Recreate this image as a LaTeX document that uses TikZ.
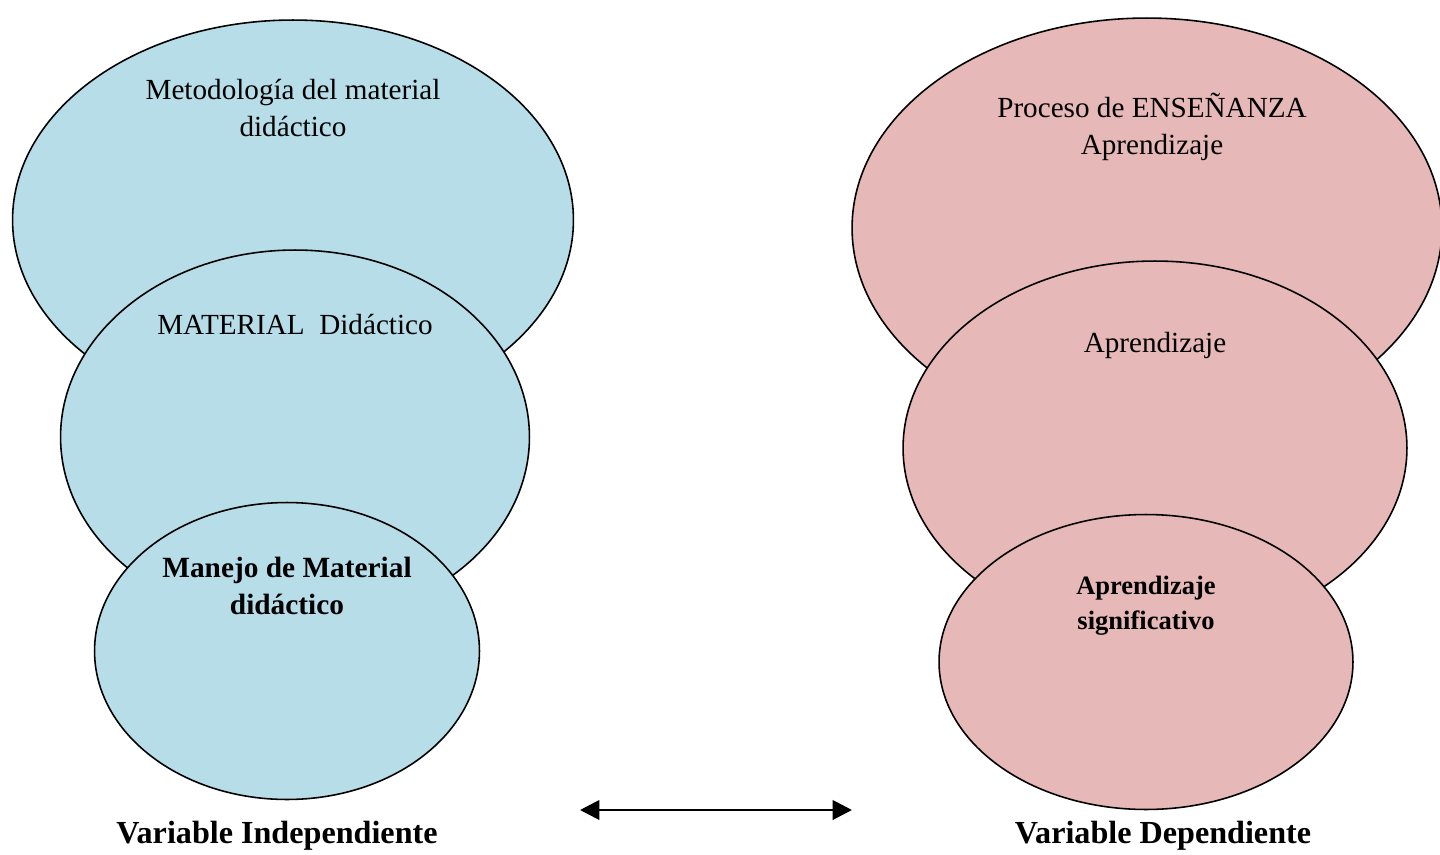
\documentclass[tikz,border=0pt]{standalone}
\usepackage{fontspec}
\setmainfont{Liberation Serif}
\usetikzlibrary{shapes, arrows.meta, positioning}
\definecolor{varblue}{RGB}{183, 221, 232}
\definecolor{varpink}{RGB}{230, 184, 183}
\tikzset{
  bubble/.style={ellipse, draw=black, line width=0.9pt, inner sep=0pt},
  bubtext/.style={align=center, font=\fontsize{16.6}{21.5}\selectfont},
  bubbold/.style={align=center, font=\fontsize{16.7}{21.5}\selectfont\bfseries},
}
\begin{document}
\begin{tikzpicture}[x=0.02cm, y=-0.02cm]
  \useasboundingbox (0,0) rectangle (1440,855);
  \clip (0,0) rectangle (1440,855);

  % Independent variable
  \node[bubble, fill=varblue, minimum width=11.22cm, minimum height=8cm] (metod) at (293,220) {};
  \node[bubble, fill=varblue, minimum width=9.38cm, minimum height=7.48cm] (mater) at (295,437) {};
  \node[bubble, fill=varblue, minimum width=7.7cm, minimum height=5.94cm] (manejo) at (287,651) {};
  \node[bubtext] (metodtxt) at (293,108) {Metodología del material\\didáctico};
  \node[bubtext] (matertxt) at (295,324) {MATERIAL~~Didáctico};
  \node[bubbold] (manejotxt) at (287,586) {Manejo de Material\\didáctico};

  % Dependent variable
  \node[bubble, fill=varpink, minimum width=11.8cm, minimum height=8.4cm] (proceso) at (1147,228) {};
  \node[bubble, fill=varpink, minimum width=10.08cm, minimum height=7.48cm] (aprend) at (1155,448) {};
  \node[bubble, fill=varpink, minimum width=8.28cm, minimum height=5.9cm] (signif) at (1146,662) {};
  \node[bubtext] (procesotxt) at (1152,127) {Proceso de ENSEÑANZA\\Aprendizaje};
  \node[bubtext] (aprendtxt) at (1155,345) {Aprendizaje};
  \node[bubbold, font=\fontsize{15.1}{20}\selectfont\bfseries] (signiftxt) at (1146,606) {Aprendizaje\\significativo};

  % Relation
  \coordinate (relA) at (580,810);
  \coordinate (relB) at (852,810);
  \draw[{Triangle[length=11pt, width=11pt]}-{Triangle[length=11pt, width=11pt]}, line width=1.6pt] (relA) -- (relB);

  \node[bubbold, font=\fontsize{18.3}{22}\selectfont\bfseries] (vindep) at (277,836) {Variable Independiente};
  \node[bubbold, font=\fontsize{18.3}{22}\selectfont\bfseries] (vdep) at (1163,836) {Variable Dependiente};
\end{tikzpicture}
\end{document}
